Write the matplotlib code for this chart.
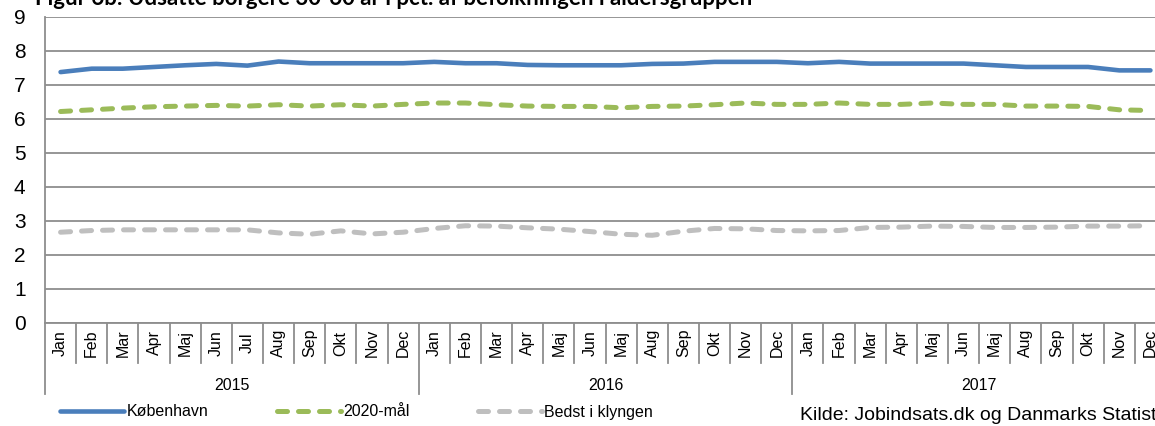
import matplotlib
matplotlib.use("Agg")
import matplotlib.pyplot as plt
from matplotlib.lines import Line2D
import matplotlib.transforms as mtransforms

months_2015 = ["Jan", "Feb", "Mar", "Apr", "Maj", "Jun", "Jul", "Aug", "Sep", "Okt", "Nov", "Dec"]
months_2016 = ["Jan", "Feb", "Mar", "Apr", "Maj", "Jun", "Maj", "Aug", "Sep", "Okt", "Nov", "Dec"]
months_2017 = ["Jan", "Feb", "Mar", "Apr", "Maj", "Jun", "Maj", "Aug", "Sep", "Okt", "Nov", "Dec"]
years = ["2015", "2016", "2017"]

kobenhavn = [7.38, 7.48, 7.48, 7.53, 7.58, 7.62, 7.57, 7.69, 7.64, 7.64, 7.64, 7.64,
             7.68, 7.64, 7.64, 7.59, 7.58, 7.58, 7.58, 7.62, 7.63, 7.68, 7.68, 7.68,
             7.64, 7.68, 7.63, 7.63, 7.63, 7.63, 7.58, 7.53, 7.53, 7.53, 7.43, 7.43]
maal_2020 = [6.22, 6.27, 6.32, 6.36, 6.38, 6.40, 6.38, 6.42, 6.38, 6.42, 6.38, 6.43,
             6.47, 6.47, 6.42, 6.38, 6.37, 6.37, 6.33, 6.37, 6.38, 6.42, 6.47, 6.43,
             6.43, 6.47, 6.43, 6.43, 6.47, 6.43, 6.43, 6.38, 6.38, 6.37, 6.27, 6.25]
bedst = [2.67, 2.72, 2.74, 2.74, 2.74, 2.74, 2.74, 2.65, 2.61, 2.71, 2.62, 2.67,
         2.78, 2.86, 2.85, 2.80, 2.76, 2.69, 2.61, 2.58, 2.70, 2.78, 2.77, 2.72,
         2.71, 2.72, 2.81, 2.82, 2.85, 2.84, 2.81, 2.81, 2.82, 2.85, 2.85, 2.86]

month_labels = months_2015 + months_2016 + months_2017
n = len(month_labels)
xs = [i + 0.5 for i in range(n)]

W, H = 1155, 426
fig = plt.figure(figsize=(W / 100, H / 100), dpi=100)
left, right, top, bottom = 45, 1166, 17, 323
ax = fig.add_axes([left / W, 1 - bottom / H, (right - left) / W, (bottom - top) / H])

BLUE = "#4A7EBB"
GREEN = "#9BBB59"
GRAY = "#BFBFBF"
GRID = "#8E8E8E"

l1, = ax.plot(xs, kobenhavn, color=BLUE, lw=3.3, solid_capstyle="round", solid_joinstyle="round", zorder=4)
l2, = ax.plot(xs, maal_2020, color=GREEN, lw=3.6, dash_capstyle="round", dashes=(2.0, 2.2), zorder=3)
l3, = ax.plot(xs, bedst, color=GRAY, lw=3.6, dash_capstyle="round", dashes=(2.0, 2.2), zorder=3)

ax.set_xlim(0, n)
ax.set_ylim(0, 9)
ax.set_yticks(range(0, 10))
ax.yaxis.grid(True, color=GRID, lw=1.3)
ax.set_axisbelow(True)
ax.tick_params(axis="y", length=0, pad=14, labelsize=15)
for lab in ax.get_yticklabels():
    lab.set_fontfamily("Liberation Sans")
ax.set_xticks([])
for s in ["top", "right"]:
    ax.spines[s].set_visible(False)
ax.spines["left"].set_color(GRID)
ax.spines["left"].set_linewidth(1.3)
ax.spines["bottom"].set_color(GRID)
ax.spines["bottom"].set_linewidth(1.3)

# multi-level category axis
trans = mtransforms.blended_transform_factory(ax.transData, ax.transAxes)
ph = bottom - top
month_end = -(363 - bottom) / ph
year_end = -(394 - bottom) / ph
for k in range(n + 1):
    y_end = year_end if k % 12 == 0 else month_end
    ax.add_line(Line2D([k, k], [0, y_end], transform=trans, color=GRID, lw=1.3, clip_on=False))
for i, m in enumerate(month_labels):
    ax.text(i + 0.5, -(343 - bottom) / ph, m, transform=trans, rotation=90,
            ha="center", va="center", fontsize=11.5, family="Liberation Sans")
for j, yr in enumerate(years):
    ax.text(12 * j + 6, -(385 - bottom) / ph, yr, transform=trans,
            ha="center", va="center", fontsize=11.5, family="Liberation Sans")

# title (partly cut off at top)
fig.text(35 / W, 1 - 5 / H, "Figur 6b: Udsatte borgere 30-60 år i pct. af befolkningen i aldersgruppen",
         fontsize=16, fontweight="bold", family="Lato", va="baseline", ha="left")

# legend
leg = fig.legend([l1, l2, l3], ["København", "2020-mål", "Bedst i klyngen"],
                 loc="center left", bbox_to_anchor=(60 / W, 1 - 412 / H), ncol=3,
                 frameon=False, handlelength=4.0, handletextpad=0.15, columnspacing=4.3,
                 prop={"family": "Liberation Sans", "size": 11.5}, borderaxespad=0, borderpad=0)

fig.text(800 / W, 1 - 415 / H, "Kilde: Jobindsats.dk og Danmarks Statistik",
         fontsize=14, family="Liberation Sans", va="center", ha="left")

fig.savefig("out.png", dpi=100)
